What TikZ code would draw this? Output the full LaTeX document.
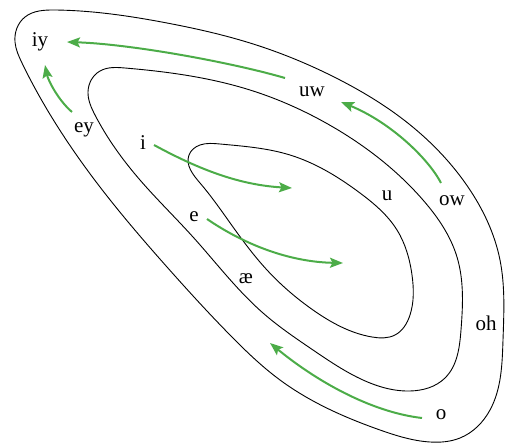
\documentclass[tikz,border=0pt]{standalone}
\usepackage{fontspec}
\setmainfont{Liberation Serif}
\usetikzlibrary{arrows.meta,hobby}
\definecolor{arrgreen}{RGB}{76,172,72}
\tikzset{
  loopline/.style={draw=black,line width=0.9pt,use Hobby shortcut,closed=true},
  garrow/.style={draw=arrgreen,line width=2pt,-{Stealth[length=13pt,width=10pt,inset=2.5pt]}},
  lbl/.style={inner sep=0pt,font=\fontsize{21}{25}\selectfont}
}
\begin{document}
\begin{tikzpicture}[x=1pt,y=-1pt]
\useasboundingbox (0,0) rectangle (506,444);
% outer loop
\draw[loopline] (15,42) .. (25,17) .. (55,10) .. (167,23) .. (250,43) .. (340,80) .. (400,117)
 .. (468,187) .. (500,260) .. (503,340) .. (490,410) .. (460,438) .. (430,442) .. (380,430)
 .. (280,380) .. (230,335) .. (167,267) .. (100,187) .. (45,106) .. (22,63);
% middle loop
\draw[loopline] (88,92) .. (100,71) .. (125,68) .. (250,90) .. (333,127) .. (423,200)
 .. (457,257) .. (461,330) .. (445,378) .. (410,391) .. (363,380) .. (313,350) .. (263,313)
 .. (193,237) .. (140,180) .. (95,115);
% inner loop
\draw[loopline] (189,155) .. (200,145) .. (220,144) .. (290,155) .. (360,193) .. (397,230)
 .. (412,275) .. (410,315) .. (395,335) .. (372,337) .. (313,310) .. (267,270) .. (233,227)
 .. (200,183);
% labels
\node[lbl] (iy) at (40,42) {iy};
\node[lbl] (ey) at (84,130) {ey};
\node[lbl] (i) at (143,143) {i};
\node[lbl] (uw) at (312,92) {uw};
\node[lbl] (u) at (387,196) {u};
\node[lbl] (ow) at (452,201) {ow};
\node[lbl] (e) at (194,217) {e};
\node[lbl] (ae) at (246,279) {æ};
\node[lbl] (oh) at (486,323) {oh};
\node[lbl] (o) at (441,415) {o};
% arrow endpoints
\coordinate (a1s) at (285,78);  \coordinate (a1e) at (67,42);
\coordinate (a2s) at (72,112);  \coordinate (a2e) at (45,65);
\coordinate (a3s) at (441,183); \coordinate (a3e) at (341,102);
\coordinate (a4s) at (154,145); \coordinate (a4e) at (292,188);
\coordinate (a5s) at (207,219); \coordinate (a5e) at (343,263);
\coordinate (a6s) at (422,418); \coordinate (a6e) at (270,343);
% arrows
\draw[garrow] (a1s) .. controls (230,62) and (130,44) .. (a1e);
\draw[garrow] (a2s) .. controls (58,100) and (48,80) .. (a2e);
\draw[garrow] (a3s) .. controls (428,158) and (390,122) .. (a3e);
\draw[garrow] (a4s) .. controls (200,170) and (240,185) .. (a4e);
\draw[garrow] (a5s) .. controls (245,245) and (290,262) .. (a5e);
\draw[garrow] (a6s) .. controls (370,412) and (315,380) .. (a6e);
\end{tikzpicture}
\end{document}
